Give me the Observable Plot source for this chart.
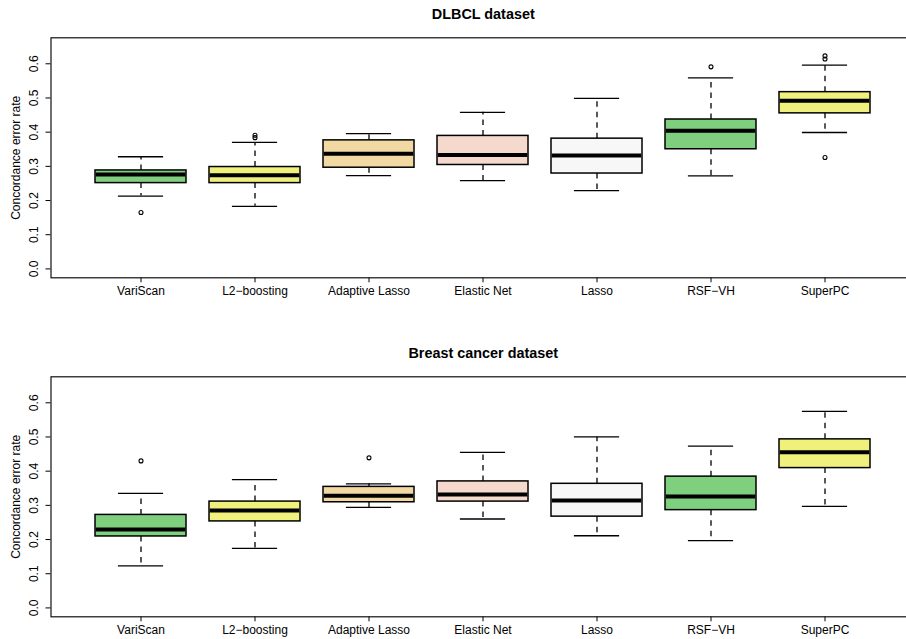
<!DOCTYPE html>
<html>
<head>
<meta charset="utf-8">
<script src="https://cdn.jsdelivr.net/npm/d3@7"></script>
<script src="https://cdn.jsdelivr.net/npm/@observablehq/plot@0.6"></script>
<style>
  html, body { margin: 0; padding: 0; background: white; overflow: hidden; }
  svg { display: block; }
</style>
</head>
<body>
<div id="chart"></div>
<script>
// ---- data ----
const methods = ["VariScan", "L2\u2212boosting", "Adaptive Lasso", "Elastic Net", "Lasso", "RSF\u2212VH", "SuperPC"];
const boxFills = ["#7ED07E", "#F0F07C", "#F2D8A2", "#F5D9CC", "#F7F7F7", "#7ED07E", "#F0F07C"];
const yTicks = [0.0, 0.1, 0.2, 0.3, 0.4, 0.5, 0.6];
const yTitle = "Concordance error rate";

// DLBCL dataset
const dlbclTitle = "DLBCL dataset";
const dlbclLow  = [0.213, 0.183, 0.273, 0.258, 0.229, 0.272, 0.399];
const dlbclQ1   = [0.251, 0.251, 0.296, 0.304, 0.279, 0.350, 0.455];
const dlbclMed  = [0.276, 0.274, 0.337, 0.333, 0.332, 0.404, 0.492];
const dlbclQ3   = [0.288, 0.298, 0.376, 0.389, 0.381, 0.437, 0.517];
const dlbclHigh = [0.328, 0.370, 0.396, 0.458, 0.499, 0.559, 0.596];
const dlbclOutMethod = ["VariScan", "L2\u2212boosting", "L2\u2212boosting", "RSF\u2212VH", "SuperPC", "SuperPC", "SuperPC"];
const dlbclOutValue  = [0.165, 0.391, 0.384, 0.591, 0.623, 0.614, 0.326];

// Breast cancer dataset
const breastTitle = "Breast cancer dataset";
const breastLow  = [0.123, 0.174, 0.294, 0.260, 0.211, 0.197, 0.297];
const breastQ1   = [0.209, 0.253, 0.309, 0.311, 0.267, 0.286, 0.409];
const breastMed  = [0.229, 0.285, 0.328, 0.332, 0.314, 0.326, 0.455];
const breastQ3   = [0.272, 0.311, 0.354, 0.370, 0.363, 0.384, 0.493];
const breastHigh = [0.335, 0.375, 0.363, 0.455, 0.500, 0.473, 0.575];
const breastOutMethod = ["VariScan", "Adaptive Lasso"];
const breastOutValue  = [0.430, 0.439];

function panel(title, low, q1, med, q3, high, outM, outV, height, marginBottom) {
  const rows = methods.map((m, i) => ({m, fill: boxFills[i], low: low[i], q1: q1[i], med: med[i], q3: q3[i], high: high[i]}));
  const outs = outM.map((m, i) => ({m, v: outV[i]}));
  const lw = 1.3;
  return Plot.plot({
    width: 906,
    height,
    marginLeft: 50.5,
    marginRight: -3,
    marginTop: 37.3,
    marginBottom,
    style: {fontFamily: "'Liberation Sans', Arial, Helvetica, sans-serif", fontSize: "12px", background: "white", color: "black"},
    x: {type: "band", domain: methods, range: [50.5, 914.9], paddingInner: 0.2, paddingOuter: 0.38},
    y: {domain: [-0.026, 0.676]},
    color: {type: "identity"},
    marks: [
      // whiskers (dashed)
      Plot.ruleX(rows, {x: "m", y1: "q3", y2: "high", stroke: "black", strokeWidth: lw, strokeDasharray: "5.5,5"}),
      Plot.ruleX(rows, {x: "m", y1: "q1", y2: "low", stroke: "black", strokeWidth: lw, strokeDasharray: "5.5,5"}),
      // staples
      Plot.tickY(rows, {x: "m", y: "high", stroke: "black", strokeWidth: lw, insetLeft: 22.9, insetRight: 22.9}),
      Plot.tickY(rows, {x: "m", y: "low", stroke: "black", strokeWidth: lw, insetLeft: 22.9, insetRight: 22.9}),
      // boxes
      Plot.barY(rows, {x: "m", y1: "q1", y2: "q3", fill: "fill", stroke: "black", strokeWidth: 1.5}),
      // medians
      Plot.tickY(rows, {x: "m", y: "med", stroke: "black", strokeWidth: 4, insetLeft: 0.75, insetRight: 0.75}),
      // outliers
      Plot.dot(outs, {x: "m", y: "v", r: 2, stroke: "black", strokeWidth: 1.1, fill: "none"}),
      // axes
      Plot.axisX({tickSize: 5, tickPadding: 4, fontSize: 12, label: null, stroke: "black"}),
      Plot.axisY({ticks: yTicks, tickSize: 5, tickFormat: () => "", label: null, stroke: "black"}),
      Plot.text(yTicks, {y: d => d, text: d => d.toFixed(1), frameAnchor: "left", dx: -17.2, rotate: -90, textAnchor: "middle", lineAnchor: "middle", fontSize: 12, fill: "black"}),
      Plot.text([yTitle], {frameAnchor: "left", dx: -34.5, rotate: -90, textAnchor: "middle", lineAnchor: "middle", fontSize: 12, fill: "black"}),
      // title
      Plot.text([title], {frameAnchor: "top", dy: -23.6, dx: 3, lineAnchor: "middle", fontWeight: "bold", fontSize: 14.4, fill: "black"}),
      // box frame
      Plot.frame({stroke: "#111", strokeWidth: 1.2})
    ]
  });
}

const root = document.getElementById("chart");
root.appendChild(panel(dlbclTitle, dlbclLow, dlbclQ1, dlbclMed, dlbclQ3, dlbclHigh, dlbclOutMethod, dlbclOutValue, 339, 61.7));
root.appendChild(panel(breastTitle, breastLow, breastQ1, breastMed, breastQ3, breastHigh, breastOutMethod, breastOutValue, 300, 22.7));
</script>
</body>
</html>
